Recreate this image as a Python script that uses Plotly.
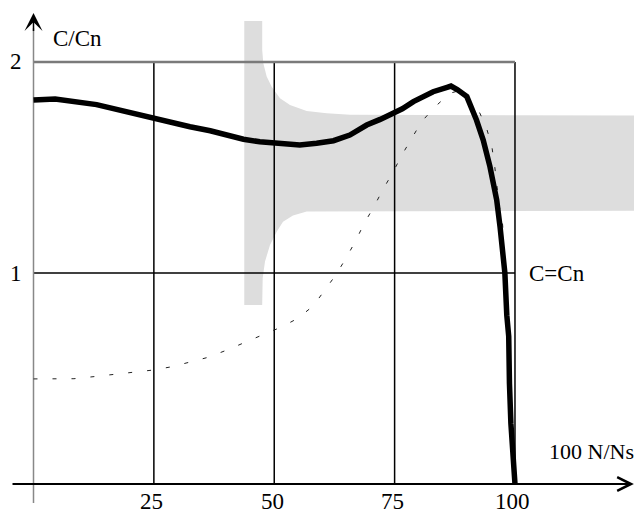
import plotly.graph_objects as go

# ---- data ----
x_ticks = [25, 50, 75, 100]
x_tick_labels = ["25", "50", "75", "100"]
y_ticks = [1, 2]
y_tick_labels = ["1", "2"]

# motor torque curve C/Cn versus 100 N/Ns
solid_x = [0, 4.5, 13.1, 19.4, 25.0, 29.0, 32.5, 36.7, 40.1, 43.6, 47.0, 50.2,
           52.6, 55.3, 58.8, 62.3, 65.7, 69.2, 72.0, 74.9, 76.6, 78.9, 81.0,
           83.0, 85.9, 86.7, 88.0, 90.0, 92.0, 93.4, 94.8, 96.2, 96.9, 97.2,
           97.9, 98.3, 98.7, 98.85, 99.15, 100.0]
solid_y = [1.820, 1.825, 1.798, 1.763, 1.737, 1.709, 1.693, 1.674, 1.654, 1.634,
           1.622, 1.618, 1.615, 1.607, 1.615, 1.627, 1.654, 1.701, 1.728, 1.758,
           1.778, 1.812, 1.839, 1.859, 1.880, 1.886, 1.869, 1.836, 1.725, 1.630,
           1.504, 1.346, 1.219, 1.150, 1.000, 0.800, 0.700, 0.477, 0.287, 0.0]

# dotted curve
dotted_x = [0, 4.5, 8.4, 12.6, 16.5, 20.6, 24.8, 28.8, 32.5, 36.2, 40.2, 43.9,
            47.7, 51.4, 54.9, 58.1, 60.4, 62.8, 64.9, 66.9, 68.7, 70.7, 72.6,
            74.6, 76.5, 78.5, 80.6, 83.4, 86.5, 88.7, 92.4, 94.1, 95.2, 95.8,
            96.2, 96.7, 97.4, 97.7]
dotted_y = [0.498, 0.498, 0.499, 0.509, 0.520, 0.529, 0.540, 0.556, 0.577, 0.600,
            0.635, 0.672, 0.708, 0.743, 0.785, 0.844, 0.916, 0.991, 1.070, 1.152,
            1.236, 1.314, 1.397, 1.475, 1.559, 1.638, 1.717, 1.788, 1.852, 1.866,
            1.773, 1.686, 1.599, 1.504, 1.417, 1.322, 1.236, 1.150]

# grey zone outline
zone_x = [43.78, 47.50, 47.50, 47.73, 48.43, 49.47, 51.19, 53.27, 56.74, 60.89,
          65.73, 130.0, 130.0, 65.73, 56.74, 53.89, 51.82, 50.51, 49.12, 48.08,
          47.60, 47.50, 43.78]
zone_y = [2.194, 2.194, 2.057, 1.994, 1.931, 1.883, 1.828, 1.796, 1.768, 1.757,
          1.750, 1.746, 1.295, 1.294, 1.291, 1.272, 1.243, 1.196, 1.133, 1.054,
          0.976, 0.848, 0.848]

X_MAX, Y_MAX = 100, 2
# the page body has an 8px margin: figure occupies page pixels 8..642 x 8..514
X_RANGE = [-5.296, 126.38]
Y_RANGE = [-0.1422, 2.2559]

FONT = dict(family="Liberation Serif", size=23, color="black")
FONT_S = dict(family="Liberation Serif", size=22, color="black")

fig = go.Figure()

# grey zone
fig.add_trace(go.Scatter(x=zone_x, y=zone_y, mode="lines", fill="toself",
                         fillcolor="#dddddd", line=dict(width=0, color="#dddddd"),
                         hoverinfo="skip"))

# grid lines (black): verticals and C=Cn
gx, gy = [], []
for t in x_ticks:
    gx += [t, t, None]
    gy += [0, Y_MAX, None]
gx += [0, X_MAX, None]
gy += [1, 1, None]
fig.add_trace(go.Scatter(x=gx, y=gy, mode="lines",
                         line=dict(color="black", width=1.5), hoverinfo="skip"))
# top grid line (grey)
fig.add_trace(go.Scatter(x=[0, X_MAX], y=[Y_MAX, Y_MAX], mode="lines",
                         line=dict(color="#7a7a7a", width=2.5), hoverinfo="skip"))
# y axis line (grey)
fig.add_trace(go.Scatter(x=[0, 0], y=[-0.09, 2.16], mode="lines",
                         line=dict(color="#888888", width=1.5), hoverinfo="skip"))

# dotted curve
fig.add_trace(go.Scatter(x=dotted_x, y=dotted_y, mode="lines",
                         line=dict(color="#222222", width=1, dash="4px,15px"),
                         hoverinfo="skip"))
# solid torque curve
fig.add_trace(go.Scatter(x=solid_x, y=solid_y, mode="lines",
                         line=dict(color="black", width=5.5), hoverinfo="skip"))

annotations = []
# x axis with arrow
annotations.append(dict(x=124.7, y=0, ax=-4.67, ay=0, xref="x", yref="y",
                        axref="x", ayref="y", text="", showarrow=True,
                        arrowhead=5, arrowsize=1.35, arrowwidth=2,
                        arrowcolor="black"))
# y axis arrow head
annotations.append(dict(x=0, y=2.232, ax=0, ay=2.14, xref="x", yref="y",
                        axref="x", ayref="y", text="", showarrow=True,
                        arrowhead=3, arrowsize=2, arrowwidth=1.5,
                        arrowcolor="black"))
# tick labels
for t, lab in zip(x_ticks, x_tick_labels):
    annotations.append(dict(x=t, y=0, xref="x", yref="y", text=lab,
                            showarrow=False, xanchor="center", yanchor="top",
                            xshift=-2, yshift=-3, font=FONT))
for t, lab in zip(y_ticks, y_tick_labels):
    annotations.append(dict(x=0, y=t, xref="x", yref="y", text=lab,
                            showarrow=False, xanchor="right", yanchor="middle",
                            xshift=-10, font=FONT))
# axis titles / labels
annotations.append(dict(x=3.6, y=2.112, xref="x", yref="y", text="C/Cn",
                        showarrow=False, xanchor="left", yanchor="middle", font=FONT))
annotations.append(dict(x=102.5, y=1.0, xref="x", yref="y", text="C=Cn",
                        showarrow=False, xanchor="left", yanchor="middle", font=FONT))
annotations.append(dict(x=106.6, y=0.152, xref="x", yref="y", text="100 N/Ns",
                        showarrow=False, xanchor="left", yanchor="middle", font=FONT_S))

fig.update_layout(
    width=634, height=506,
    margin=dict(l=0, r=0, t=0, b=0),
    paper_bgcolor="white", plot_bgcolor="white",
    showlegend=False,
    xaxis=dict(range=X_RANGE, visible=False, fixedrange=True),
    yaxis=dict(range=Y_RANGE, visible=False, fixedrange=True),
    annotations=annotations,
)

fig.write_html("out.html")
